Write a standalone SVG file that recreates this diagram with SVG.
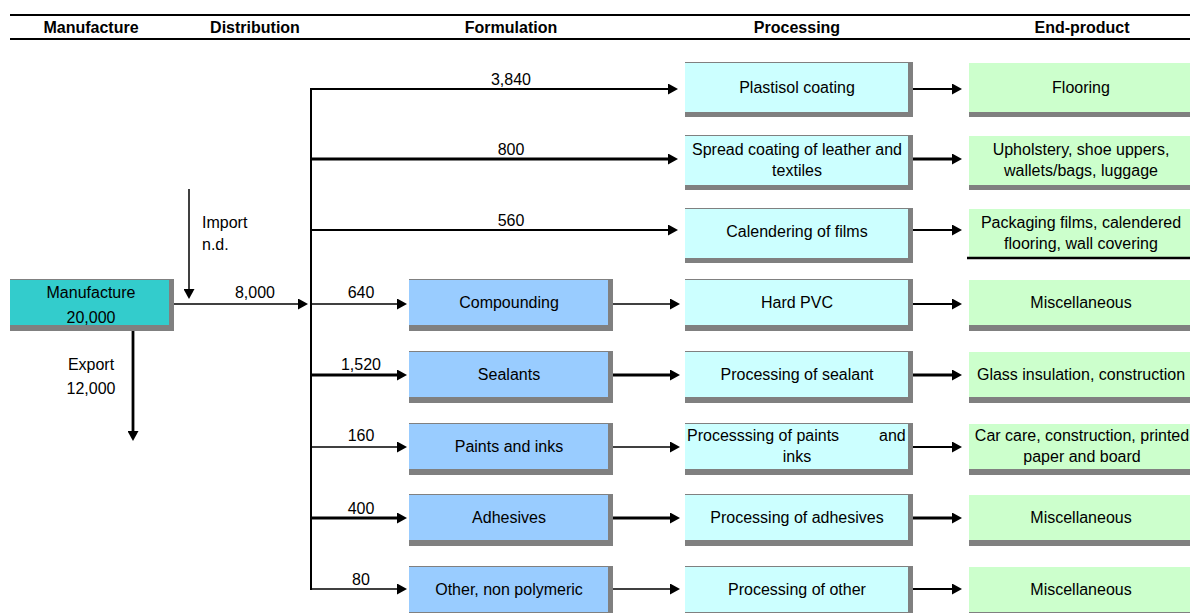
<svg xmlns="http://www.w3.org/2000/svg" width="1190" height="613" viewBox="0 0 1190 613">
<style>
.t{font-family:"Liberation Sans",Arial,Helvetica,sans-serif;font-size:16px;fill:#000}
.h{font-weight:bold;text-anchor:middle}
.c{text-anchor:middle}
.sh{fill:#808080}
.man{fill:#33CCCC}
.form{fill:#99CCFF}
.proc{fill:#CCFFFF}
.end{fill:#CCFFCC}
.ln{stroke:#000;fill:none}
.a{marker-end:url(#ah)}
.w1{stroke-width:1.5}
.w2{stroke-width:2}
.w3{stroke-width:2.8}
</style>
<defs>
<marker id="ah" markerUnits="userSpaceOnUse" markerWidth="10" markerHeight="11" refX="0" refY="5.5" orient="auto" viewBox="0 0 10 11"><path d="M0,0 L10,5.5 L0,11 z" fill="#000"/></marker>
</defs>
<rect width="1190" height="613" fill="#fff"/>

<g id="header">
<line class="ln" x1="10" y1="15" x2="1190" y2="15" stroke-width="2"/>
<line class="ln" x1="10" y1="39" x2="1190" y2="39" stroke-width="2"/>
<text class="t h" x="91" y="33">Manufacture</text>
<text class="t h" x="255" y="33">Distribution</text>
<text class="t h" x="511" y="33">Formulation</text>
<text class="t h" x="797" y="33">Processing</text>
<text class="t h" x="1082" y="33">End-product</text>
</g>

<g id="connectors">
<line class="ln w1 a" x1="189" y1="189" x2="189" y2="289"/>
<line class="ln w1 a" x1="169" y1="304" x2="298" y2="304"/>
<line class="ln w3 a" x1="133" y1="325" x2="133" y2="431"/>
<line class="ln w2" x1="311" y1="88" x2="311" y2="590"/>
<line class="ln w2 a" x1="311" y1="89" x2="668" y2="89"/>
<line class="ln w3 a" x1="311" y1="159" x2="668" y2="159"/>
<line class="ln w2 a" x1="311" y1="230" x2="668" y2="230"/>
<line class="ln w1 a" x1="311" y1="304" x2="397" y2="304"/>
<line class="ln w3 a" x1="311" y1="375" x2="397" y2="375"/>
<line class="ln w1 a" x1="311" y1="447" x2="397" y2="447"/>
<line class="ln w3 a" x1="311" y1="518" x2="397" y2="518"/>
<line class="ln w1 a" x1="311" y1="589" x2="397" y2="589"/>
<line class="ln w1 a" x1="610" y1="304" x2="670" y2="304"/>
<line class="ln w3 a" x1="610" y1="375" x2="670" y2="375"/>
<line class="ln w1 a" x1="610" y1="447" x2="670" y2="447"/>
<line class="ln w3 a" x1="610" y1="518" x2="670" y2="518"/>
<line class="ln w1 a" x1="610" y1="589" x2="670" y2="589"/>
<line class="ln w2 a" x1="909" y1="89" x2="952" y2="89"/>
<line class="ln w3 a" x1="909" y1="159" x2="952" y2="159"/>
<line class="ln w2 a" x1="909" y1="230" x2="952" y2="230"/>
<line class="ln w2 a" x1="909" y1="304" x2="952" y2="304"/>
<line class="ln w3 a" x1="909" y1="375" x2="952" y2="375"/>
<line class="ln w2 a" x1="909" y1="447" x2="952" y2="447"/>
<line class="ln w3 a" x1="909" y1="518" x2="952" y2="518"/>
<line class="ln w2 a" x1="909" y1="589" x2="952" y2="589"/>
<text class="t" x="202" y="228">Import</text>
<text class="t" x="202" y="250">n.d.</text>
<text class="t c" x="255" y="298">8,000</text>
<text class="t c" x="91" y="370">Export</text>
<text class="t c" x="91" y="394">12,000</text>
<text class="t c" x="511" y="85">3,840</text>
<text class="t c" x="511" y="155">800</text>
<text class="t c" x="511" y="226">560</text>
<text class="t c" x="361" y="298">640</text>
<text class="t c" x="361" y="370">1,520</text>
<text class="t c" x="361" y="441">160</text>
<text class="t c" x="361" y="514">400</text>
<text class="t c" x="361" y="585">80</text>
</g>

<g id="manufacture">
<rect class="sh" x="10" y="279" width="164" height="52"/>
<rect class="man" x="10" y="280" width="159" height="45"/>
<text class="t c" x="91" y="298">Manufacture</text>
<text class="t c" x="91" y="323">20,000</text>
</g>

<g id="compounding">
<rect class="sh" x="409" y="279" width="204" height="52"/>
<rect class="form" x="409" y="280" width="199" height="45"/>
<text class="t c" x="509" y="308">Compounding</text>
</g>
<g id="sealants">
<rect class="sh" x="409" y="351" width="204" height="52"/>
<rect class="form" x="409" y="352" width="199" height="45"/>
<text class="t c" x="509" y="380">Sealants</text>
</g>
<g id="paints">
<rect class="sh" x="409" y="423" width="204" height="52"/>
<rect class="form" x="409" y="424" width="199" height="45"/>
<text class="t c" x="509" y="452">Paints and inks</text>
</g>
<g id="adhesives">
<rect class="sh" x="409" y="494" width="204" height="52"/>
<rect class="form" x="409" y="495" width="199" height="45"/>
<text class="t c" x="509" y="523">Adhesives</text>
</g>
<g id="other">
<rect class="sh" x="409" y="566" width="204" height="52"/>
<rect class="form" x="409" y="567" width="199" height="45"/>
<text class="t c" x="509" y="595">Other, non polymeric</text>
</g>

<g id="plastisol">
<rect class="sh" x="685" y="62" width="228" height="55"/>
<rect class="proc" x="685" y="63" width="223" height="49"/>
<text class="t c" x="797" y="93">Plastisol coating</text>
</g>
<g id="spread">
<rect class="sh" x="685" y="135" width="228" height="55"/>
<rect class="proc" x="685" y="136" width="223" height="49"/>
<text class="t c" x="797" y="155">Spread coating of leather and</text>
<text class="t c" x="797" y="176">textiles</text>
</g>
<g id="calendering">
<rect class="sh" x="685" y="208" width="228" height="55"/>
<rect class="proc" x="685" y="209" width="223" height="49"/>
<text class="t c" x="797" y="237">Calendering of films</text>
</g>
<g id="hardpvc">
<rect class="sh" x="685" y="279" width="228" height="52"/>
<rect class="proc" x="685" y="280" width="223" height="45"/>
<text class="t c" x="797" y="308">Hard PVC</text>
</g>
<g id="proc-sealant">
<rect class="sh" x="685" y="351" width="228" height="52"/>
<rect class="proc" x="685" y="352" width="223" height="45"/>
<text class="t c" x="797" y="380">Processing of sealant</text>
</g>
<g id="proc-paints">
<rect class="sh" x="685" y="423" width="228" height="52"/>
<rect class="proc" x="685" y="424" width="223" height="45"/>
<text class="t" x="687" y="441">Processsing of paints</text>
<text class="t" x="879" y="441">and</text>
<text class="t c" x="797" y="462">inks</text>
</g>
<g id="proc-adhesives">
<rect class="sh" x="685" y="494" width="228" height="52"/>
<rect class="proc" x="685" y="495" width="223" height="45"/>
<text class="t c" x="797" y="523">Processing of adhesives</text>
</g>
<g id="proc-other">
<rect class="sh" x="685" y="566" width="228" height="52"/>
<rect class="proc" x="685" y="567" width="223" height="45"/>
<text class="t c" x="797" y="595">Processing of other</text>
</g>

<g id="flooring">
<rect class="sh" x="969" y="63" width="230" height="54"/>
<rect class="end" x="969" y="63" width="230" height="49"/>
<text class="t c" x="1081" y="93">Flooring</text>
</g>
<g id="upholstery">
<rect class="sh" x="969" y="136" width="230" height="54"/>
<rect class="end" x="969" y="136" width="230" height="49"/>
<text class="t c" x="1081" y="155">Upholstery, shoe uppers,</text>
<text class="t c" x="1081" y="176">wallets/bags, luggage</text>
</g>
<g id="packaging">
<rect class="end" x="969" y="209" width="230" height="49"/>
<line class="ln" x1="967" y1="258" x2="1190" y2="258" stroke-width="2.5"/>
<text class="t c" x="1081" y="228">Packaging films, calendered</text>
<text class="t c" x="1081" y="249">flooring, wall covering</text>
</g>
<g id="misc-1">
<rect class="sh" x="969" y="280" width="230" height="51"/>
<rect class="end" x="969" y="280" width="230" height="45"/>
<text class="t c" x="1081" y="308">Miscellaneous</text>
</g>
<g id="glass">
<rect class="sh" x="969" y="352" width="230" height="51"/>
<rect class="end" x="969" y="352" width="230" height="45"/>
<text class="t c" x="1081" y="380">Glass insulation, construction</text>
</g>
<g id="carcare">
<rect class="sh" x="969" y="424" width="230" height="51"/>
<rect class="end" x="969" y="424" width="230" height="45"/>
<text class="t c" x="1082" y="441">Car care, construction, printed</text>
<text class="t c" x="1082" y="462">paper and board</text>
</g>
<g id="misc-2">
<rect class="sh" x="969" y="495" width="230" height="51"/>
<rect class="end" x="969" y="495" width="230" height="45"/>
<text class="t c" x="1081" y="523">Miscellaneous</text>
</g>
<g id="misc-3">
<rect class="sh" x="969" y="567" width="230" height="51"/>
<rect class="end" x="969" y="567" width="230" height="45"/>
<text class="t c" x="1081" y="595">Miscellaneous</text>
</g>
</svg>
